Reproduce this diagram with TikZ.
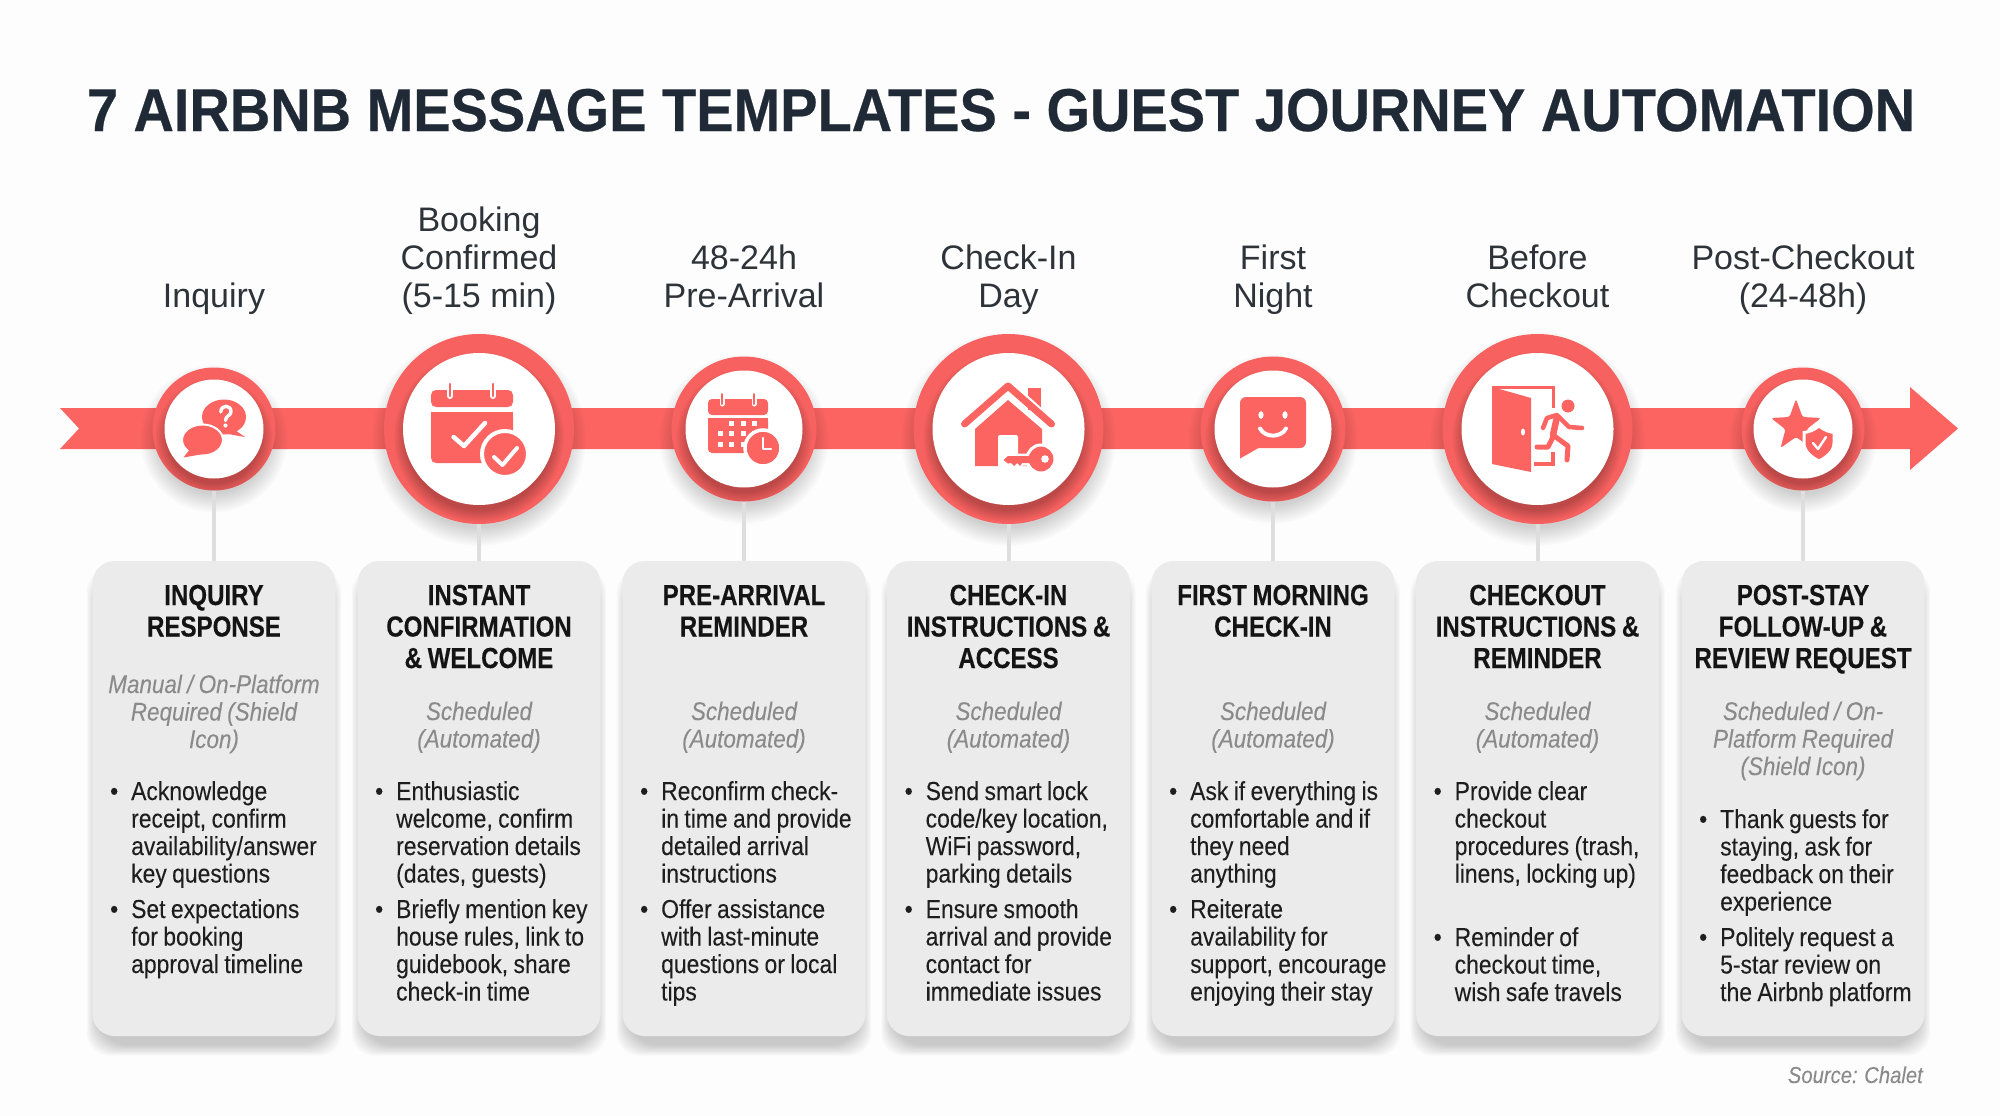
\documentclass[tikz,border=0pt]{standalone}
\usepackage{fontspec}
\setmainfont{Liberation Sans}
\newfontfamily\condf{Liberation Sans}[FakeStretch=0.88,WordSpace=0.85,FakeBold=0.08]
\newfontfamily\condb{Liberation Sans}[FakeStretch=0.83,WordSpace=0.85,FakeBold=0.3]
\newfontfamily\titlef{Liberation Sans}[FakeStretch=0.925,FakeBold=0.4]
\usetikzlibrary{calc}
\definecolor{coral}{HTML}{FB6461}
\definecolor{ringc}{HTML}{F76260}
\definecolor{bgc}{HTML}{FDFDFD}
\definecolor{cardc}{HTML}{EBEBEC}
\definecolor{linec}{HTML}{DEDEDE}
\definecolor{titlec}{HTML}{1F2A36}
\definecolor{labelc}{HTML}{2D3338}
\definecolor{subc}{HTML}{8A8A8A}
\definecolor{bodyc}{HTML}{1E1E1E}
\tikzset{
  x=1pt,y=-1pt,
  ringnode/.style={circle,fill=ringc,inner sep=0pt},
  whitenode/.style={circle,fill=white,inner sep=0pt},
  cardnode/.style={rectangle,rounded corners=22pt,fill=cardc,inner sep=0pt,minimum width=243pt,minimum height=475pt},
  connector/.style={draw=linec,line width=4pt},
  steplabel/.style={anchor=base,inner sep=0pt,text width=260pt,align=flush center,text=labelc,font=\fontsize{34}{38}\selectfont},
  cardtitle/.style={anchor=base,inner sep=0pt,text width=240pt,align=flush center,text=black!92,font=\condb\bfseries\fontsize{29}{31.5}\selectfont},
  cardsub/.style={anchor=base,inner sep=0pt,text width=240pt,align=flush center,text=subc,font=\condf\itshape\fontsize{25.5}{27.5}\selectfont},
  cardbody/.style={anchor=base west,inner sep=0pt,text width=230pt,align=flush left,text=bodyc,font=\condf\fontsize{26}{27.5}\selectfont},
  icon/.style={fill=coral,draw=none},
  iconline/.style={draw=coral,line cap=round,line join=round},
  whiteline/.style={draw=white,line cap=round,line join=round},
}
\newcommand{\bul}{\llap{\textbullet\hspace{13pt}}}
% stage: index, x, ring radius, white radius, first baseline of label, label
\newcommand{\stage}[6]{%
  \foreach \k in {1,...,9}{\fill[black,opacity=.021] (#2,429+10) circle[radius=#3-8+\k*2.2];}
  \node[ringnode,minimum size=2*#3 pt] (c#1) at (#2,429) {};
  \begin{scope}
    \clip (#2,429) circle[radius=#3];
    \foreach \k in {1,...,8}{\fill[black,opacity=.032] (#2,429+8) circle[radius=#4-4+\k*1.6];}
  \end{scope}
  \node[whitenode,minimum size=2*#4 pt] (w#1) at (#2,429) {};
  \node[steplabel] (l#1) at (#2,#5) {#6};
  \foreach \k in {1,...,9}{\fill[black,opacity=.022,rounded corners=22pt+\k*1pt] ($(#2,561)+(-121.5-7+\k*1.3,7+\k*1.3)$) rectangle ($(#2,1036)+(121.5+7-\k*1.3,14-\k*1.3+7)$);}
  \node[cardnode] (k#1) at (#2,798.5) {};
  \draw[connector] (c#1.south) -- (k#1.north);
}
% text of a card: index, x, title, sub baseline, sub, first bullet baseline, bullet, second baseline, bullet
\newcommand{\cardtext}[9]{%
  \node[cardtitle] (t#1) at (#2,605) {#3};
  \node[cardsub] (s#1) at (#2,#4) {#5};
  \node[cardbody] (a#1) at (#2-121.5+38.5,#6+1) {\bul #7};
  \node[cardbody] (b#1) at (#2-121.5+38.5,#8+1) {\bul #9};
}
\begin{document}
\begin{tikzpicture}
\useasboundingbox (0,0) rectangle (2000,1116);
\fill[bgc] (0,0) rectangle (2000,1116);
\node[anchor=base,inner sep=0pt,text=titlec,font=\titlef\bfseries\fontsize{60.5}{66}\selectfont] (title) at (1001,131) {7 AIRBNB MESSAGE TEMPLATES - GUEST JOURNEY AUTOMATION};
% timeline ribbon
\fill[coral] (60,408) -- (79,428.5) -- (60,449) -- (1910,449) -- (1910,470) -- (1958,428.5) -- (1910,387) -- (1910,408) -- cycle;
\stage{1}{214}{61.5}{49.5}{307}{Inquiry}
\stage{2}{479}{95}{76}{231}{Booking\\Confirmed\\(5-15 min)}
\stage{3}{744}{72.5}{58.5}{269}{48-24h\\Pre-Arrival}
\stage{4}{1008.5}{95}{76}{269}{Check-In\\Day}
\stage{5}{1273}{72.5}{58.5}{269}{First\\Night}
\stage{6}{1537.5}{95}{76}{269}{Before\\Checkout}
\stage{7}{1803}{61.5}{49.5}{269}{Post-Checkout\\(24-48h)}
\cardtext{1}{214}{INQUIRY\\RESPONSE}{693}{Manual / On-Platform\\Required (Shield\\Icon)}{799}{Acknowledge\\receipt, confirm\\availability/answer\\key questions}{917}{Set expectations\\for booking\\approval timeline}
\cardtext{2}{479}{INSTANT\\CONFIRMATION\\\& WELCOME}{720}{Scheduled\\(Automated)}{799}{Enthusiastic\\welcome, confirm\\reservation details\\(dates, guests)}{917}{Briefly mention key\\house rules, link to\\guidebook, share\\check-in time}
\cardtext{3}{744}{PRE-ARRIVAL\\REMINDER}{720}{Scheduled\\(Automated)}{799}{Reconfirm check-\\in time and provide\\detailed arrival\\instructions}{917}{Offer assistance\\with last-minute\\questions or local\\tips}
\cardtext{4}{1008.5}{CHECK-IN\\INSTRUCTIONS \&\\ACCESS}{720}{Scheduled\\(Automated)}{799}{Send smart lock\\code/key location,\\WiFi password,\\parking details}{917}{Ensure smooth\\arrival and provide\\contact for\\immediate issues}
\cardtext{5}{1273}{FIRST MORNING\\CHECK-IN}{720}{Scheduled\\(Automated)}{799}{Ask if everything is\\comfortable and if\\they need\\anything}{917}{Reiterate\\availability for\\support, encourage\\enjoying their stay}
\cardtext{6}{1537.5}{CHECKOUT\\INSTRUCTIONS \&\\REMINDER}{720}{Scheduled\\(Automated)}{799}{Provide clear\\checkout\\procedures (trash,\\linens, locking up)}{945}{Reminder of\\checkout time,\\wish safe travels}
\cardtext{7}{1803}{POST-STAY\\FOLLOW-UP \&\\REVIEW REQUEST}{720}{Scheduled / On-\\Platform Required\\(Shield Icon)}{827}{Thank guests for\\staying, ask for\\feedback on their\\experience}{945}{Politely request a\\5-star review on\\the Airbnb platform}
\node[anchor=base east,inner sep=0pt,text=subc,font=\condf\itshape\fontsize{23}{26}\selectfont] (src) at (1923,1083) {Source: Chalet};
% icon 1: speech bubbles
\fill[icon] (224,417) ellipse[x radius=22,y radius=17.5];
\fill[icon] (232,428) -- (245,437) -- (222,433) -- cycle;
\draw[whiteline,line width=3.4pt] (220.8,412) .. controls (220.8,404.5) and (231,404.5) .. (231,411.5) .. controls (231,416) and (225.5,415.5) .. (225.5,420.5);
\fill[white] (225.5,425.5) circle[radius=2.1];
\fill[coral,draw=white,line width=2pt] (202.5,440) ellipse[x radius=20.5,y radius=15.5];
\fill[icon] (190,449) -- (183.5,457.5) -- (203,454) -- cycle;
% icon 2: calendar with badge
\fill[icon,rounded corners=5pt] (431,390) rectangle (513,407);
\fill[icon,rounded corners=5pt] (431,412) rectangle (513,463);
\fill[icon] (431,412) rectangle (513,420);
\draw[whiteline,line width=6pt] (450,384) -- (450,396);
\draw[whiteline,line width=6pt] (493,384) -- (493,396);
\draw[iconline,line width=2.2pt] (450,384) -- (450,396);
\draw[iconline,line width=2.2pt] (493,384) -- (493,396);
\draw[whiteline,line width=4.5pt] (453.6,437) -- (464,446) -- (485,423);
\fill[coral,draw=white,line width=4pt] (505,454) circle[radius=23];
\draw[whiteline,line width=4pt] (494,457) -- (502.5,465) -- (517,448);
% icon 3: calendar with clock
\fill[icon,rounded corners=4pt] (708,399) rectangle (768,415);
\fill[icon,rounded corners=4pt] (708,418) rectangle (768,453);
\fill[icon] (708,418) rectangle (768,424);
\draw[whiteline,line width=5pt] (722,394) -- (722,404);
\draw[whiteline,line width=5pt] (754,394) -- (754,404);
\draw[iconline,line width=2pt] (722,394) -- (722,404);
\draw[iconline,line width=2pt] (754,394) -- (754,404);
\foreach \px/\py in {731/423,743/423,754/423,720/433,731/433,743/433,754/433,720/444,731/444,743/444}{\fill[white] (\px-2.5,\py-2.5) rectangle (\px+2.5,\py+2.5);}
\fill[coral,draw=white,line width=3.5pt] (763,448) circle[radius=18];
\draw[whiteline,line width=2.6pt] (763,438) -- (763,449) -- (771,449);
% icon 4: house and key
\fill[icon] (1028,388) rectangle (1041,410);
\draw[white,line width=3pt] (1026,396) -- (1046,414);
\draw[iconline,line width=7pt] (964.5,424) -- (1008,386) -- (1051.5,424);
\fill[icon] (1008,400) -- (1042,429) -- (1042,466) -- (975,466) -- (975,429) -- cycle;
\fill[white,rounded corners=2pt] (998,435) rectangle (1018,470);
\fill[coral,draw=white,line width=3pt] (1003,460) -- (1008,455) -- (1032,455) -- (1032,464) -- (1022,464) -- (1020,467) -- (1017,464) -- (1014,467) -- (1011,464) -- (1008,464) -- cycle;
\fill[coral,draw=white,line width=3pt] (1041,459) circle[radius=14];
\fill[icon] (1003.5,460) -- (1008,456) -- (1032,456) -- (1032,463) -- (1022,463) -- (1020,466) -- (1017,463) -- (1014,466) -- (1011,463) -- (1008,463.5) -- cycle;
\fill[white] (1045,459) circle[radius=3.8];
% icon 5: smiling chat
\fill[icon,rounded corners=6pt] (1240,397) rectangle (1306,448);
\fill[icon] (1240,440) -- (1240,458.5) -- (1262,446) -- cycle;
\fill[white] (1261,415) ellipse[x radius=2.6,y radius=3.8];
\fill[white] (1285,415) ellipse[x radius=2.6,y radius=3.8];
\draw[whiteline,line width=4pt] (1260,428.5) .. controls (1265,438) and (1281,438) .. (1286,428.5);
% icon 6: door and runner
\fill[icon] (1492,387) -- (1531,398) -- (1531,472) -- (1492,464) -- cycle;
\draw[draw=coral,line width=3pt] (1492,387.5) -- (1553,387.5) -- (1553,408);
\draw[draw=coral,line width=4pt] (1553,452) -- (1553,464) -- (1534,464);
\fill[white] (1523,432) ellipse[x radius=2,y radius=3.5];
\fill[icon] (1568,406) circle[radius=6.5];
\draw[iconline,line width=4.5pt] (1543,428) -- (1547,418) -- (1557,415) -- (1569,427) -- (1582,428);
\draw[iconline,line width=6.5pt] (1557,417) -- (1553,435);
\draw[iconline,line width=5pt] (1553,435) -- (1568,446) -- (1567,460);
\draw[iconline,line width=5pt] (1553,437) -- (1548,447) -- (1537,447);
% icon 7: star and shield
\fill[icon,rounded corners=2.5pt] (1796,399) -- (1802.5,417) -- (1821,418) -- (1806.5,429.4) -- (1811.5,448) -- (1796,437) -- (1780.5,448) -- (1785.5,429.4) -- (1771,418) -- (1789.5,417) -- cycle;
\fill[coral,draw=white,line width=3pt] (1819,426) .. controls (1824,430) and (1829,432) .. (1834,432.5) -- (1834,443) .. controls (1834,451) and (1827,457) .. (1819,461) .. controls (1811,457) and (1804,451) .. (1804,443) -- (1804,432.5) .. controls (1809,432) and (1814,430) .. (1819,426) -- cycle;
\draw[whiteline,line width=2.4pt] (1813,443) -- (1818,449) -- (1826,437);
\end{tikzpicture}
\end{document}
